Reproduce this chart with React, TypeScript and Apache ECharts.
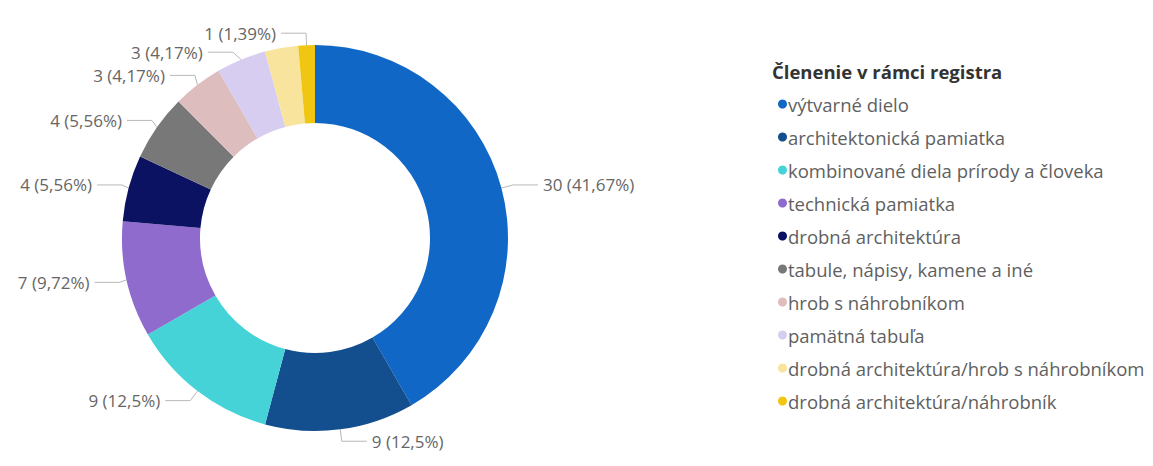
import React, { useEffect, useRef } from "react";
import * as echarts from "echarts";

const categories = [
  "výtvarné dielo",
  "architektonická pamiatka",
  "kombinované diela prírody a človeka",
  "technická pamiatka",
  "drobná architektúra",
  "tabule, nápisy, kamene a iné",
  "hrob s náhrobníkom",
  "pamätná tabuľa",
  "drobná architektúra/hrob s náhrobníkom",
  "drobná architektúra/náhrobník",
];
const values = [30, 9, 9, 7, 4, 4, 3, 3, 2, 1];
// labels shown in the reference (the small light-yellow slice has no visible label)
const labelShown = [true, true, true, true, true, true, true, true, false, true];
const colors = [
  "#1067C6",
  "#134F8E",
  "#45D3D8",
  "#8E6BCD",
  "#0C1262",
  "#787878",
  "#DDBDBE",
  "#D6CDF0",
  "#F8E49C",
  "#F0C612",
];
const legendTitle = "Členenie v rámci registra";

const FONT = "'Open Sans', 'Noto Sans', sans-serif";

export default function App() {
  const ref = useRef<HTMLDivElement>(null);
  useEffect(() => {
    if (!ref.current) return;
    const chart = echarts.init(ref.current, undefined, { renderer: "svg" });
    const total = values.reduce((a, b) => a + b, 0);
    const fmtPct = (v: number) => {
      let s = ((v / total) * 100).toFixed(2);
      s = s.replace(/0+$/, "").replace(/\.$/, "");
      return s.replace(".", ",");
    };
    chart.setOption({
      animation: false,
      backgroundColor: "#ffffff",
      color: colors,
      graphic: [
        {
          type: "text",
          left: 772,
          top: 62,
          style: {
            text: legendTitle,
            fontFamily: FONT,
            fontSize: 18.5,
            fontWeight: "bold",
            fill: "#333333",
          },
        },
      ],
      legend: {
        orient: "vertical",
        left: 773,
        top: 88,
        icon: "circle",
        itemWidth: 9,
        itemHeight: 9,
        itemGap: 11,
        data: categories,
        textStyle: {
          fontFamily: FONT,
          fontSize: 18.5,
          lineHeight: 22,
          color: "#5f5f5f",
          padding: [0, 0, 0, -4],
        },
      },
      series: [
        {
          type: "pie",
          center: [315, 238],
          radius: [115, 193],
          startAngle: 90,
          clockwise: true,
          avoidLabelOverlap: true,
          data: categories.map((c, i) => ({
            name: c,
            value: values[i],
            label: { show: labelShown[i] },
            labelLine: { show: labelShown[i] },
          })),
          label: {
            show: true,
            position: "outside",
            fontFamily: FONT,
            fontSize: 17,
            color: "#666666",
            formatter: (p: any) => `${p.value} (${fmtPct(p.value)}%)`,
          },
          labelLine: {
            show: true,
            length: 12,
            length2: 25,
            lineStyle: { color: "#b8b8b8", width: 1 },
          },
          itemStyle: { borderWidth: 0 },
          emphasis: { disabled: true },
        },
      ],
    });
    return () => chart.dispose();
  }, []);
  return (
    <div
      ref={ref}
      style={{ position: "absolute", left: 0, top: 0, width: 1153, height: 466 }}
    />
  );
}
